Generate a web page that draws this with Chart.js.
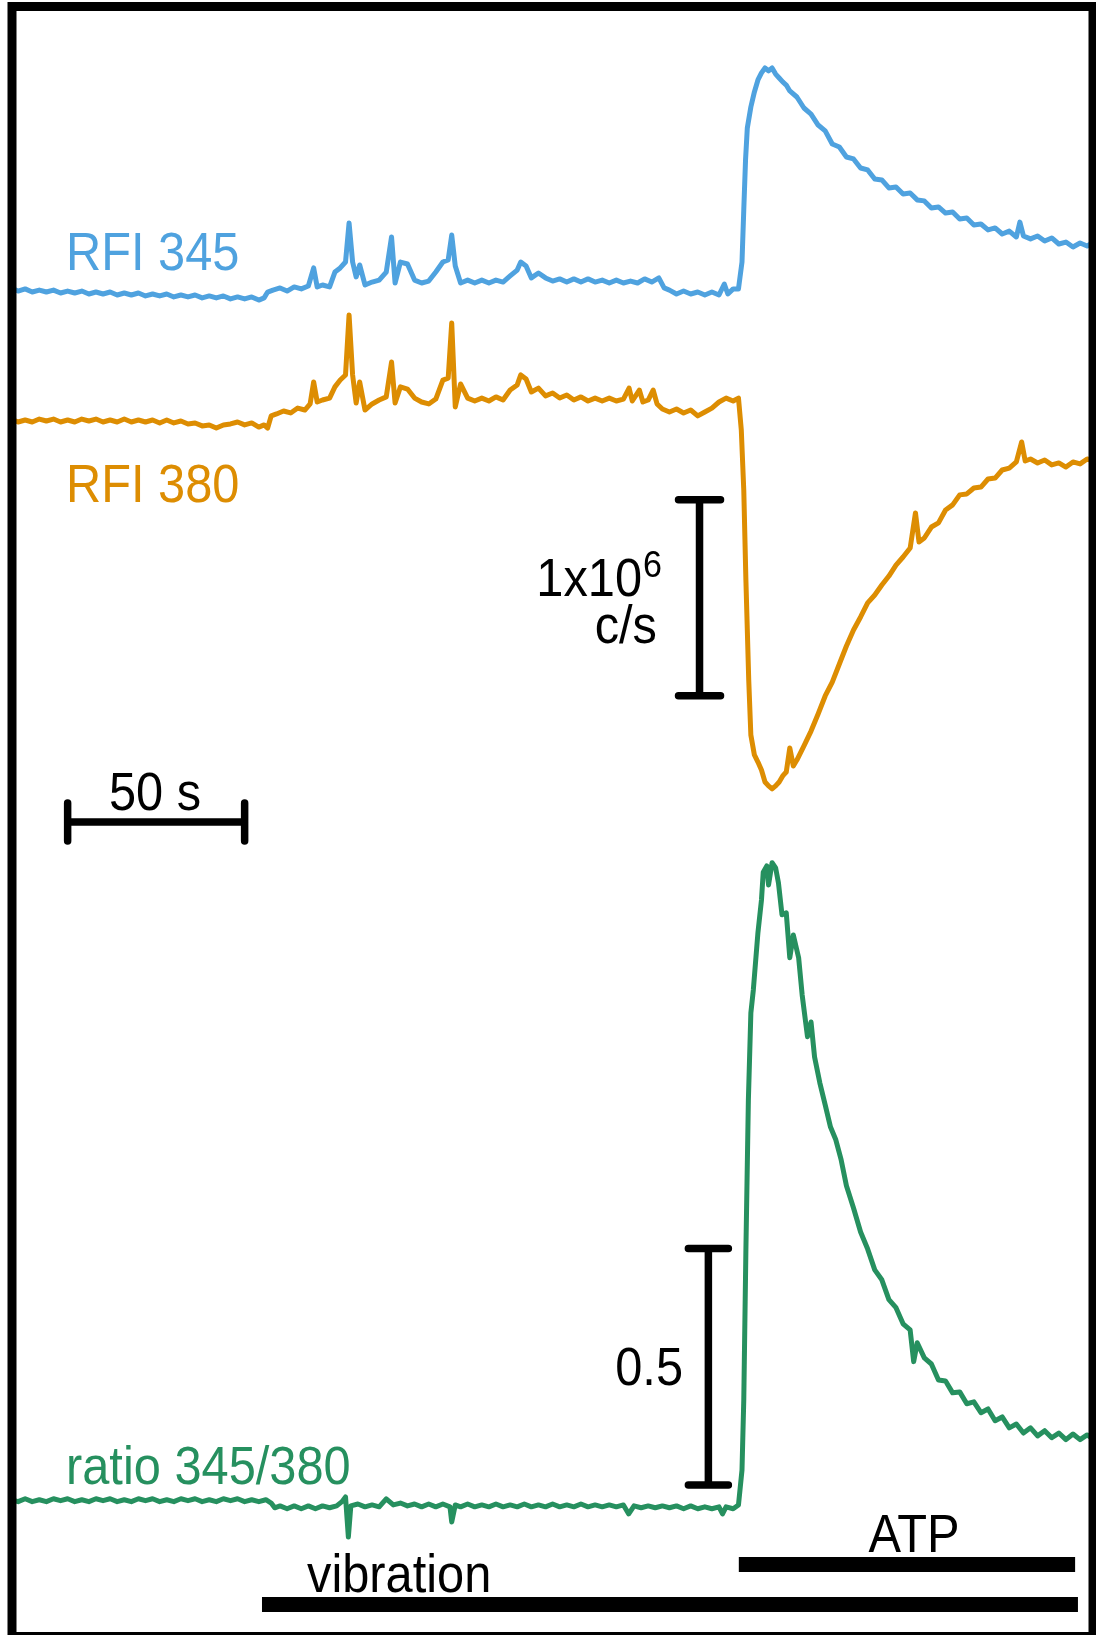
<!DOCTYPE html>
<html>
<head>
<meta charset="utf-8">
<title>RFI 345 / RFI 380 / ratio</title>
<script src="https://cdn.jsdelivr.net/npm/chart.js@4.4.1/dist/chart.umd.min.js"></script>
<style>
  html, body { margin: 0; padding: 0; background: #fff; }
  #wrap { width: 1096px; height: 1635px; }
</style>
</head>
<body>
<div id="wrap"><canvas id="trazas" width="1096" height="1635"></canvas></div>
<script>
// [tiempo (s), valor] -- RFI en 10^6 c/s
const rfi345 = [
  [0,3.081],[2,3.065],[4,3.076],[6,3.060],[8,3.070],[10,3.060],[12,3.070],[14,3.055],[16,3.065],[18,3.055],
  [20,3.065],[22,3.050],[24,3.060],[26,3.050],[28,3.060],[30,3.045],[32,3.055],[34,3.045],[36,3.055],[38,3.040],
  [40,3.050],[42,3.040],[44,3.050],[46,3.035],[48,3.045],[50,3.035],[52,3.045],[54,3.030],[56,3.040],[58,3.030],
  [60,3.040],[62,3.025],[64,3.035],[66,3.025],[68,3.035],[70,3.019],[71.5,3.030],[72.5,3.060],[74,3.070],[76,3.081],
  [78,3.065],[80,3.086],[82,3.076],[84,3.091],[85.5,3.183],[86.5,3.086],[88,3.096],[90,3.086],[91.5,3.162],[93,3.183],
  [94.5,3.213],[95.5,3.412],[96.5,3.213],[97.5,3.137],[98.5,3.198],[100,3.096],[102,3.111],[104,3.121],[106,3.162],[107.5,3.341],
  [108.5,3.106],[110,3.213],[112,3.203],[114,3.121],[116,3.106],[118,3.116],[120,3.162],[122,3.213],[123.5,3.224],[124.5,3.351],
  [125.5,3.193],[127,3.106],[129,3.121],[131,3.106],[133,3.121],[135,3.106],[137,3.121],[139,3.111],[141,3.142],[143,3.172],
  [144,3.213],[145.5,3.193],[147,3.132],[149,3.157],[151,3.132],[153,3.116],[155,3.127],[157,3.111],[159,3.127],[161,3.111],
  [163,3.127],[165,3.111],[167,3.121],[169,3.106],[171,3.121],[173,3.106],[175,3.116],[177,3.106],[179,3.127],[181,3.111],
  [183,3.132],[184.5,3.081],[186,3.070],[188,3.050],[190,3.065],[192,3.050],[194,3.060],[196,3.045],[198,3.060],[200,3.045],
  [201.5,3.101],[202.5,3.050],[204,3.076],[205.5,3.076],[206.5,3.213],[207,3.479],[207.5,3.734],[208,3.897],[209,4.004],[210,4.081],
  [211,4.142],[212,4.178],[213,4.203],[214,4.188],[215,4.203],[216,4.172],[217,4.152],[218,4.132],[219,4.116],[220,4.086],
  [222,4.055],[224,3.999],[226,3.968],[228,3.912],[230,3.882],[232,3.815],[234,3.800],[236,3.749],[238,3.739],[240,3.693],
  [242,3.683],[244,3.637],[246,3.632],[248,3.591],[250,3.596],[252,3.560],[254,3.565],[256,3.530],[258,3.525],[260,3.489],
  [262,3.494],[264,3.463],[266,3.468],[268,3.433],[270,3.438],[272,3.402],[274,3.407],[276,3.377],[278,3.387],[280,3.356],
  [282,3.371],[284,3.341],[285,3.417],[286,3.346],[288,3.331],[290,3.346],[292,3.320],[294,3.336],[296,3.305],[298,3.315],
  [300,3.290],[302,3.310],[304,3.295],[306,3.315]
];

const rfi380 = [
  [0,2.412],[2,2.397],[4,2.407],[6,2.397],[8,2.412],[10,2.402],[12,2.412],[14,2.397],[16,2.407],[18,2.397],
  [20,2.412],[22,2.402],[24,2.412],[26,2.397],[28,2.407],[30,2.397],[32,2.412],[34,2.397],[36,2.407],[38,2.397],
  [40,2.407],[42,2.392],[44,2.407],[46,2.392],[48,2.402],[50,2.387],[52,2.392],[54,2.377],[56,2.382],[58,2.366],
  [60,2.382],[62,2.387],[64,2.397],[66,2.382],[68,2.392],[70,2.371],[71.5,2.382],[72.5,2.366],[73.5,2.428],[75,2.438],
  [77,2.453],[79,2.443],[81,2.468],[83,2.458],[84.5,2.489],[85.5,2.601],[86.5,2.499],[88,2.509],[90,2.519],[91.5,2.576],
  [93,2.611],[94.5,2.637],[95.5,2.943],[96.5,2.637],[97.5,2.494],[98.5,2.601],[100,2.458],[102,2.489],[104,2.509],[106,2.525],
  [107.5,2.703],[108.5,2.494],[110,2.576],[112,2.565],[114,2.519],[116,2.499],[118,2.489],[120,2.514],[122,2.611],[123.5,2.621],
  [124.5,2.902],[125.5,2.474],[127,2.591],[129,2.519],[131,2.504],[133,2.519],[135,2.504],[137,2.525],[139,2.509],[141,2.560],
  [143,2.586],[144,2.637],[145.5,2.616],[147,2.550],[149,2.570],[151,2.530],[153,2.545],[155,2.519],[157,2.535],[159,2.509],
  [161,2.525],[163,2.504],[165,2.519],[167,2.504],[169,2.519],[171,2.504],[173,2.514],[174.6,2.570],[175.5,2.504],[177.5,2.560],
  [178.5,2.499],[180,2.509],[181.4,2.560],[182.5,2.489],[184,2.463],[186,2.448],[188,2.463],[190,2.443],[192,2.458],[194,2.428],
  [196,2.448],[198,2.468],[200,2.499],[202,2.519],[204,2.504],[205.5,2.519],[206.3,2.356],[207,2.050],[207.6,1.591],[208.4,1.081],
  [209,0.800],[210,0.698],[211,0.662],[212,0.621],[213,0.560],[214,0.540],[215,0.525],[216,0.540],[217,0.560],[218,0.591],
  [219,0.611],[220,0.734],[221,0.642],[222,0.672],[224,0.744],[226,0.820],[228,0.907],[230,0.999],[232,1.070],[234,1.162],
  [236,1.254],[238,1.336],[240,1.402],[242,1.474],[244,1.514],[246,1.565],[248,1.611],[250,1.667],[252,1.708],[254,1.754],
  [255.5,1.933],[256.5,1.785],[258,1.805],[260,1.861],[262,1.882],[264,1.948],[266,1.974],[268,2.025],[270,2.030],[272,2.060],
  [274,2.065],[276,2.106],[278,2.111],[280,2.152],[282,2.162],[284,2.193],[285.5,2.295],[286.5,2.198],[288,2.208],[290,2.188],
  [292,2.203],[294,2.178],[296,2.188],[298,2.167],[300,2.193],[302,2.183],[304,2.208],[306,2.198]
];

// cociente 345/380
const ratio = [
  [0,0.569],[2,0.565],[4,0.571],[6,0.565],[8,0.569],[10,0.565],[12,0.571],[14,0.567],[16,0.571],[18,0.565],
  [20,0.569],[22,0.565],[24,0.571],[26,0.567],[28,0.571],[30,0.565],[32,0.569],[34,0.565],[36,0.571],[38,0.567],
  [40,0.571],[42,0.565],[44,0.569],[46,0.565],[48,0.571],[50,0.567],[52,0.571],[54,0.565],[56,0.569],[58,0.565],
  [60,0.571],[62,0.567],[64,0.571],[66,0.565],[68,0.569],[70,0.565],[72,0.569],[73.5,0.562],[74.5,0.552],[76,0.556],
  [78,0.550],[80,0.556],[82,0.550],[84,0.556],[86,0.550],[88,0.556],[90,0.552],[92,0.556],[93.5,0.565],[94.5,0.575],
  [95.3,0.490],[96,0.556],[98,0.560],[100,0.554],[102,0.558],[104,0.554],[106,0.571],[108,0.558],[110,0.562],[112,0.556],
  [114,0.560],[116,0.554],[118,0.560],[120,0.554],[122,0.560],[124,0.554],[124.5,0.522],[125.5,0.558],[127,0.554],[129,0.560],
  [131,0.554],[133,0.558],[135,0.554],[137,0.560],[139,0.554],[141,0.558],[143,0.554],[145,0.560],[147,0.554],[149,0.558],
  [151,0.554],[153,0.560],[155,0.554],[157,0.558],[159,0.554],[161,0.560],[163,0.554],[165,0.558],[167,0.554],[169,0.558],
  [171,0.554],[173,0.558],[174.5,0.539],[176,0.556],[178,0.552],[180,0.556],[182,0.552],[184,0.556],[186,0.552],[188,0.556],
  [190,0.550],[192,0.556],[194,0.550],[196,0.554],[198,0.550],[200,0.554],[201,0.539],[202,0.554],[204,0.550],[205.5,0.558],
  [206.5,0.632],[207,0.780],[207.6,1.097],[208.3,1.414],[209,1.598],[209.7,1.647],[211,1.768],[212,1.837],[212.5,1.896],[213.5,1.909],
  [214,1.869],[215,1.916],[216,1.905],[216.8,1.873],[217.8,1.806],[219,1.810],[220,1.715],[221,1.763],[222.5,1.715],[223.5,1.636],
  [225,1.548],[226,1.579],[227,1.505],[228.5,1.450],[230,1.404],[231.5,1.357],[233,1.330],[234.5,1.288],[236,1.233],[238,1.186],
  [240,1.135],[242,1.099],[244,1.055],[246,1.034],[248,0.992],[250,0.975],[252,0.941],[254,0.928],[255,0.861],[256,0.901],
  [258,0.869],[260,0.856],[262,0.822],[264,0.820],[266,0.795],[268,0.797],[270,0.772],[272,0.776],[274,0.753],[276,0.761],
  [278,0.736],[280,0.744],[282,0.721],[284,0.729],[286,0.710],[288,0.721],[290,0.704],[292,0.715],[294,0.700],[296,0.710],
  [298,0.696],[300,0.708],[302,0.696],[304,0.706],[306,0.696]
];

// periodos de estimulo (s)
const vibracion = [70.9, 301.4];
const atp = [205.6, 300.6];

// barras de escala
const barraTiempo = [16, 66];     // 50 s
const barraRfi = [1.0, 2.0];      // 1x10^6 c/s
const barraRatio = [0.6, 1.1];    // 0.5

const AZUL = "#4FA2DF";
const NARANJA = "#DD8D02";
const VERDE = "#26905F";
const FUENTE = "'Liberation Sans', Arial, sans-serif";
const GROSOR = 5;

const aPuntos = (pares) => pares.map(([t, v]) => ({ x: t, y: v }));

// texto algo estrecho (escala horizontal)
function texto(ctx, s, x, y, color, size, align) {
  ctx.save();
  ctx.font = size + "px " + FUENTE;
  ctx.fillStyle = color;
  ctx.textAlign = align || "left";
  ctx.textBaseline = "alphabetic";
  ctx.translate(x, y);
  ctx.scale(0.92, 1);
  ctx.fillText(s, 0, 0);
  ctx.restore();
}

// barra vertical con topes
function barraV(ctx, x, y1, y2, medio) {
  ctx.beginPath();
  ctx.moveTo(x, y1); ctx.lineTo(x, y2);
  ctx.moveTo(x - medio, y1); ctx.lineTo(x + medio, y1);
  ctx.moveTo(x - medio, y2); ctx.lineTo(x + medio, y2);
  ctx.stroke();
}

const marcas = {
  id: "marcas",
  afterDatasetsDraw(chart) {
    const { ctx, scales } = chart;
    const x = scales.x, yRfi = scales.yRfi, yRatio = scales.yRatio;
    ctx.save();

    // marco
    ctx.strokeStyle = "#000";
    ctx.lineWidth = 9;
    ctx.strokeRect(12, 6.5, 1081, 1630);

    // barras de escala
    ctx.lineWidth = 7.5;
    ctx.lineCap = "round";
    barraV(ctx, x.getPixelForValue(194.5), yRfi.getPixelForValue(barraRfi[1]), yRfi.getPixelForValue(barraRfi[0]), 21);
    barraV(ctx, x.getPixelForValue(197), yRatio.getPixelForValue(barraRatio[1]), yRatio.getPixelForValue(barraRatio[0]), 20);

    const x0 = x.getPixelForValue(barraTiempo[0]), x1 = x.getPixelForValue(barraTiempo[1]);
    ctx.beginPath();
    ctx.moveTo(x0, 822); ctx.lineTo(x1, 822);
    ctx.moveTo(x0, 803); ctx.lineTo(x0, 841);
    ctx.moveTo(x1, 803); ctx.lineTo(x1, 841);
    ctx.stroke();

    // estimulos
    ctx.fillStyle = "#000";
    const v0 = x.getPixelForValue(vibracion[0]), v1 = x.getPixelForValue(vibracion[1]);
    ctx.fillRect(v0, 1597, v1 - v0, 15);
    const a0 = x.getPixelForValue(atp[0]), a1 = x.getPixelForValue(atp[1]);
    ctx.fillRect(a0, 1557, a1 - a0, 15);

    // rotulos
    texto(ctx, "RFI 345", 66, 270, AZUL, 53);
    texto(ctx, "RFI 380", 66, 502, NARANJA, 53);
    texto(ctx, "ratio 345/380", 66, 1484, VERDE, 53);
    texto(ctx, "1x10", 642, 596, "#000", 53, "right");
    texto(ctx, "6", 643, 577, "#000", 37);
    texto(ctx, "c/s", 657, 643, "#000", 53, "right");
    texto(ctx, "0.5", 683, 1385, "#000", 53, "right");
    texto(ctx, "50 s", 155, 810, "#000", 53, "center");
    texto(ctx, "ATP", 914, 1552, "#000", 53, "center");
    texto(ctx, "vibration", 307, 1592, "#000", 53);

    ctx.restore();
  },
};

const ctx = document.getElementById("trazas").getContext("2d");
new Chart(ctx, {
  type: "line",
  data: {
    datasets: [
      { label: "RFI 345", data: aPuntos(rfi345), borderColor: AZUL, borderWidth: GROSOR, yAxisID: "yRfi" },
      { label: "RFI 380", data: aPuntos(rfi380), borderColor: NARANJA, borderWidth: GROSOR, yAxisID: "yRfi" },
      { label: "ratio 345/380", data: aPuntos(ratio), borderColor: VERDE, borderWidth: GROSOR, yAxisID: "yRatio" },
    ],
  },
  options: {
    responsive: false,
    animation: false,
    devicePixelRatio: 1,
    layout: { padding: 0 },
    elements: {
      point: { radius: 0 },
      line: { tension: 0, borderJoinStyle: "round", fill: false },
    },
    plugins: { legend: { display: false }, tooltip: { enabled: false } },
    scales: {
      x: { type: "linear", min: -3.107, max: 306.5, display: false },
      yRfi: { type: "linear", min: -3.792, max: 4.55, display: false },
      yRatio: { type: "linear", min: 0.283, max: 3.74, display: false },
    },
  },
  plugins: [marcas],
});
</script>
</body>
</html>
